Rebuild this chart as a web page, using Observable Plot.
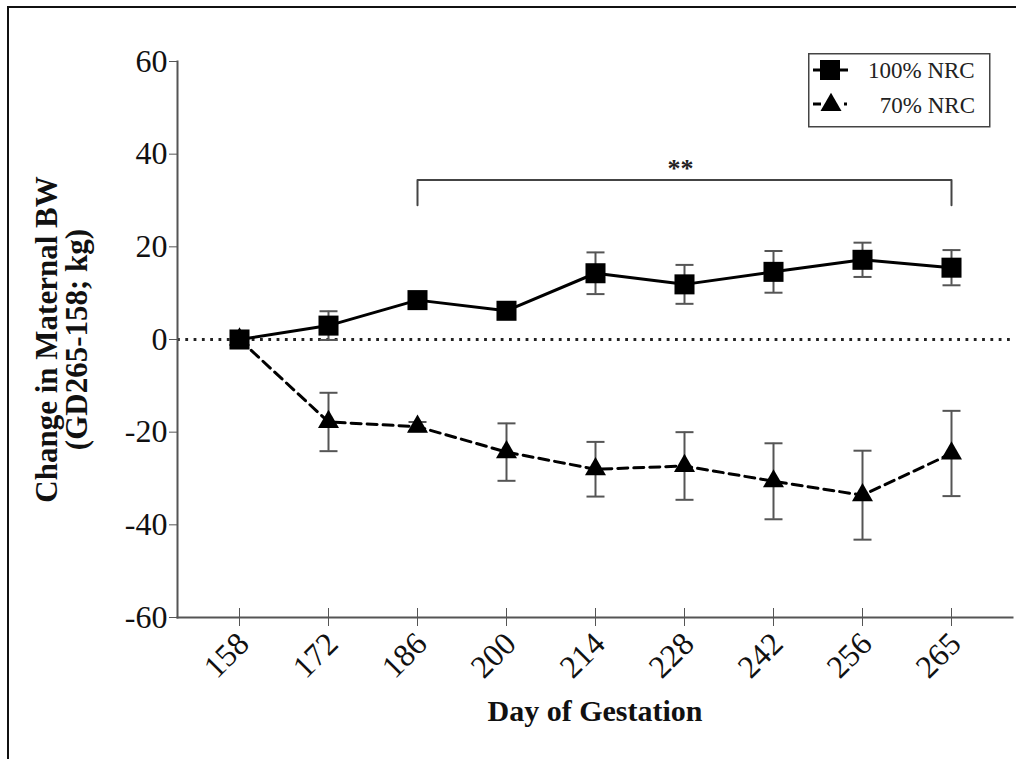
<!DOCTYPE html>
<html><head><meta charset="utf-8">
<script src="https://cdn.jsdelivr.net/npm/d3@7"></script>
<script src="https://cdn.jsdelivr.net/npm/@observablehq/plot@0.6"></script>
<style>
html,body{margin:0;padding:0;background:#fff;overflow:hidden}
#wrap{position:relative;width:1016px;height:759px;overflow:hidden;background:#fff}
#frame{position:absolute;left:7px;top:6px;width:1040px;height:800px;border-left:2px solid #111;border-top:2px solid #111}
#chart{position:absolute;left:0;top:0}
#legend{position:absolute;left:808px;top:53px}
</style></head><body>
<div id="wrap"><div id="chart"></div><div id="frame"></div><div id="legend"></div></div>
<script>
// ---- data ----
const days = ["158","172","186","200","214","228","242","256","265"];
const seriesNames = ["100% NRC", "70% NRC"];
const nrc100 = [0, 3.0, 8.5, 6.2, 14.3, 11.9, 14.6, 17.2, 15.5];
const nrc100Err = [0, 3.1, 1.0, 1.0, 4.5, 4.2, 4.5, 3.7, 3.8];
const nrc70 = [0, -17.8, -18.8, -24.3, -28.0, -27.3, -30.6, -33.6, -24.6];
const nrc70Err = [0, 6.3, 1.0, 6.2, 5.9, 7.3, 8.2, 9.6, 9.2];
const yTicks = [-60, -40, -20, 0, 20, 40, 60];
const bracketFrom = "186";
const bracketTo = "265";
const bracketTop = 34.4;
const bracketFoot = 29.0;
const bracketLabel = "**";
const bracketLabelAt = "228";
const xTitle = "Day of Gestation";
const yTitle = "Change in Maternal BW\n(GD265-158; kg)";

// ---- tables ----
const rows100 = days.map((d, i) => ({day: d, value: nrc100[i], err: nrc100Err[i]}));
const rows70 = days.map((d, i) => ({day: d, value: nrc70[i], err: nrc70Err[i]}));
const errRows = [...rows100, ...rows70].filter(r => r.err > 0);
const bracketPath = [
  {x: bracketFrom, y: bracketFoot}, {x: bracketFrom, y: bracketTop},
  {x: bracketTo, y: bracketTop}, {x: bracketTo, y: bracketFoot}
];

const capSymbol = {draw(ctx, size) { const w = Math.sqrt(size / Math.PI); ctx.moveTo(-w, 0); ctx.lineTo(w, 0); }};
const serif = "'Liberation Serif', 'DejaVu Serif', serif";

const chart = Plot.plot({
  width: 1016, height: 759,
  marginTop: 61, marginBottom: 142, marginLeft: 177, marginRight: 4,
  style: {fontFamily: serif, fontSize: "32px", background: "transparent", color: "#111"},
  x: {type: "point", domain: days, padding: 0.64},
  y: {domain: [-60, 60]},
  marks: [
    Plot.ruleY([0], {stroke: "#222", strokeWidth: 2.8, strokeDasharray: "2.8,5.5"}),
    Plot.frame({anchor: "left", stroke: "#555", strokeWidth: 2}),
    Plot.frame({anchor: "bottom", stroke: "#555", strokeWidth: 2}),
    Plot.axisY(yTicks, {tickSize: 8, tickPadding: 2, fontSize: 32, stroke: "#555", fill: "#111", tickFormat: d => String(d), label: null}),
    Plot.axisX({tickSize: 18, dy: -9, tickFormat: () => "", stroke: "#555", label: null}),
    Plot.axisX({tickSize: 0, tickPadding: 21, tickRotate: -45, fontSize: 32, fill: "#111", dx: 4, label: null}),
    // bracket
    Plot.line(bracketPath, {x: "x", y: "y", stroke: "#444", strokeWidth: 2}),
    Plot.text([bracketLabel], {x: () => bracketLabelAt, y: () => bracketTop, text: d => d, dy: -11, dx: -4, fontSize: 26, fontWeight: "bold", fill: "#222"}),
    // error bars
    Plot.ruleX(errRows, {x: "day", y1: d => d.value - d.err, y2: d => d.value + d.err, stroke: "#555", strokeWidth: 2}),
    Plot.dot(errRows, {x: "day", y: d => d.value + d.err, symbol: capSymbol, r: 9, stroke: "#555", strokeWidth: 2, fill: "none"}),
    Plot.dot(errRows, {x: "day", y: d => d.value - d.err, symbol: capSymbol, r: 9, stroke: "#555", strokeWidth: 2, fill: "none"}),
    // lines
    Plot.line(rows100, {x: "day", y: "value", stroke: "#000", strokeWidth: 3}),
    Plot.line(rows70, {x: "day", y: "value", stroke: "#000", strokeWidth: 3, strokeDasharray: "10,6"}),
    // markers
    Plot.dot(rows100, {x: "day", y: "value", symbol: "square", r: 11.3, fill: "#000", stroke: null}),
    Plot.dot(rows70, {x: "day", y: "value", symbol: "triangle", r: 7.8, fill: "#000", stroke: null}),
    // titles
    Plot.text([xTitle], {frameAnchor: "bottom", dy: 103, fontSize: 30, fontWeight: "bold", fill: "#111"}),
    Plot.text([yTitle], {frameAnchor: "left", textAnchor: "middle", rotate: -90, dx: -115, fontSize: 31, fontWeight: "bold", lineHeight: 0.95, fill: "#111"})
  ]
});
document.getElementById("chart").appendChild(chart);

// legend
const lg = d3.select("#legend").append("svg").attr("width", 184).attr("height", 76)
  .style("font-family", serif).style("font-size", "23px");
lg.append("rect").attr("x", 0.75).attr("y", 0.75).attr("width", 181).attr("height", 73)
  .attr("fill", "#fff").attr("stroke", "#444").attr("stroke-width", 1.5);
lg.append("line").attr("x1", 5).attr("x2", 40).attr("y1", 17).attr("y2", 17).attr("stroke", "#000").attr("stroke-width", 3);
lg.append("rect").attr("x", 12).attr("y", 7).attr("width", 20).attr("height", 20).attr("fill", "#000");
lg.append("text").attr("x", 60).attr("y", 25).attr("fill", "#222").text(seriesNames[0]);
lg.append("line").attr("x1", 5).attr("x2", 13).attr("y1", 51).attr("y2", 51).attr("stroke", "#000").attr("stroke-width", 3);
lg.append("path").attr("d", d3.symbol(d3.symbolTriangle, Math.PI * 7.8 * 7.8)()).attr("transform", "translate(23,52)").attr("fill", "#000");
lg.append("rect").attr("x", 36).attr("y", 49.5).attr("width", 3).attr("height", 3).attr("fill", "#000");
lg.append("text").attr("x", 167).attr("y", 60).attr("text-anchor", "end").attr("fill", "#222").text(seriesNames[1]);
</script>
</body></html>
